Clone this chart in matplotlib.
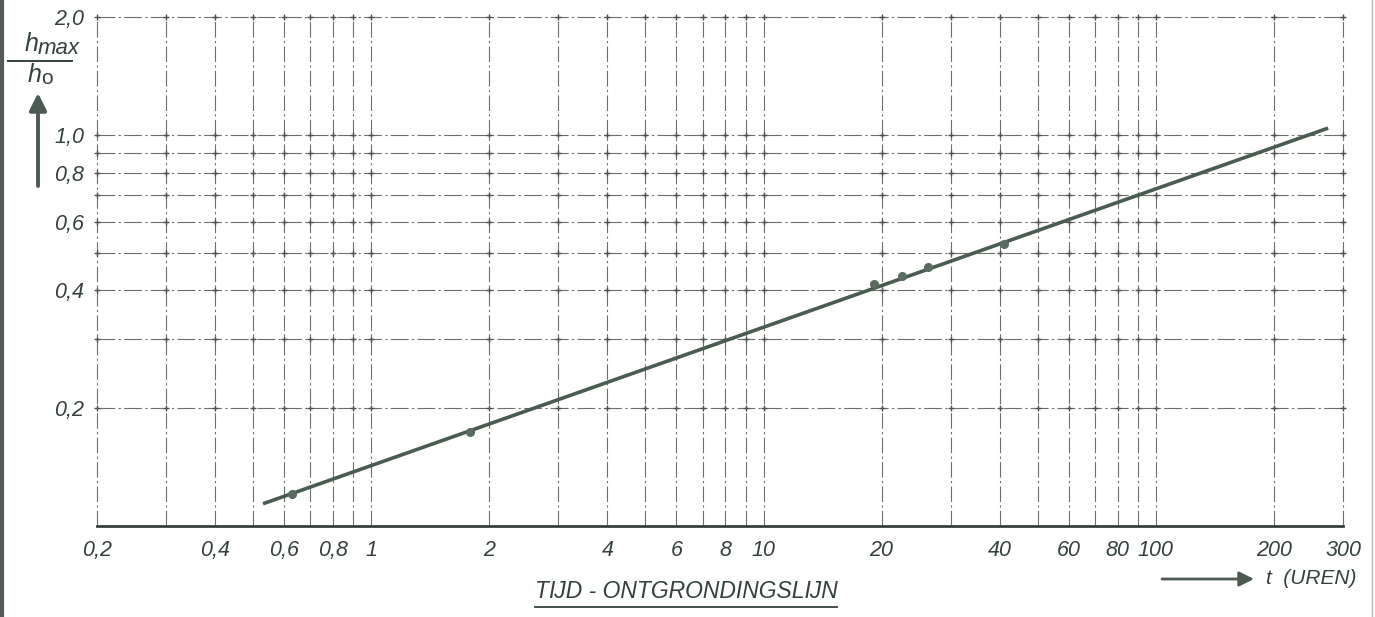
import numpy as np
import matplotlib.pyplot as plt
from matplotlib.lines import Line2D

# measured scour depth ratio vs time (hours)
t_obs = [0.63, 1.79, 19.1, 22.5, 26.2, 41.1]
h_obs = [0.121, 0.174, 0.416, 0.436, 0.459, 0.527]

# straight fitted line on log-log paper
t_fit = [0.53, 275]
h_fit = [0.114, 1.04]

x_grid = [0.2, 0.3, 0.4, 0.5, 0.6, 0.7, 0.8, 0.9,
          1, 2, 3, 4, 5, 6, 7, 8, 9,
          10, 20, 30, 40, 50, 60, 70, 80, 90,
          100, 200, 300]
y_grid = [0.2, 0.3, 0.4, 0.5, 0.6, 0.7, 0.8, 0.9, 1.0, 2.0]
x_labels = [0.2, 0.4, 0.6, 0.8, 1, 2, 4, 6, 8, 10, 20, 40, 60, 80, 100, 200, 300]
y_labels = [0.2, 0.4, 0.6, 0.8, 1.0, 2.0]

ink = '#34423a'
line_col = '#4a5c50'
grid_col = '#6a6f6c'
FONT = 'Liberation Sans'

fig = plt.figure(figsize=(13.75, 6.17), dpi=100)
ax = fig.add_axes([97 / 1375, 1 - 526 / 617, 1246 / 1375, 509 / 617])
ax.set_xscale('log')
ax.set_yscale('log')
ax.set_xlim(0.2, 290)
ax.set_ylim(0.1, 2.0)

for s in ['top', 'left', 'right']:
    ax.spines[s].set_visible(False)
ax.spines['bottom'].set_linewidth(2.0)
ax.spines['bottom'].set_color(ink)

# grid of the log paper
for xv in x_grid:
    ax.axvline(xv, color=grid_col, lw=0.8, ls=(0, (14, 3, 2, 3)), clip_on=False, zorder=1)
for yv in y_grid:
    ax.axhline(yv, color=grid_col, lw=0.8, ls=(0, (16, 3, 2, 3)), clip_on=False, zorder=1)
gx, gy = np.meshgrid(x_grid, y_grid)
ax.plot(gx.ravel(), gy.ravel(), ls='none', marker='+', ms=5, mew=1.0,
        color='#4d524f', clip_on=False, zorder=2)

ax.plot(t_fit, h_fit, color=line_col, lw=2.6, solid_capstyle='butt', zorder=3)
ax.plot(t_obs, h_obs, ls='none', marker='o', ms=5.5, color='#5a6b60', zorder=4)


def fmt(v):
    if v < 1:
        return ('%.1f' % v).replace('.', ',')
    return '%d' % v


ax.set_xticks(x_labels)
ax.set_xticklabels([fmt(v) for v in x_labels])
ax.set_xticks([], minor=True)
ax.set_yticks(y_labels)
ax.set_yticklabels([('%.1f' % v).replace('.', ',') for v in y_labels])
ax.set_yticks([], minor=True)
ax.tick_params(length=0, labelsize=15.5, labelcolor=ink)
ax.tick_params(axis='x', pad=10)
ax.tick_params(axis='y', pad=9)
for lab in ax.get_xticklabels() + ax.get_yticklabels():
    lab.set_fontstyle('italic')
    lab.set_fontfamily(FONT)

# y axis quantity with upward arrow
fig.text(38 / 1375, 1 - 44 / 617, 'h', fontsize=18, style='italic', family=FONT,
         color=ink, ha='right', va='center')
fig.text(38 / 1375, 1 - 48 / 617, 'max', fontsize=16, style='italic', family=FONT,
         color=ink, ha='left', va='center')
fig.add_artist(Line2D([8 / 1375, 72 / 1375], [1 - 61 / 617, 1 - 61 / 617],
                      color=ink, lw=1.4))
fig.text(41 / 1375, 1 - 75 / 617, 'h', fontsize=18, style='italic', family=FONT,
         color=ink, ha='right', va='center')
fig.text(41 / 1375, 1 - 79 / 617, 'o', fontsize=15, family=FONT,
         color=ink, ha='left', va='center')
ax.annotate('', xy=(38, 617 - 93), xytext=(38, 617 - 186),
            xycoords='figure pixels', textcoords='figure pixels',
            arrowprops=dict(arrowstyle='-|>', lw=2.8, color='#4d5a52',
                            mutation_scale=26, shrinkA=0, shrinkB=0))

# x axis quantity with arrow
ax.annotate('', xy=(1254, 617 - 579), xytext=(1162, 617 - 579),
            xycoords='figure pixels', textcoords='figure pixels',
            arrowprops=dict(arrowstyle='-|>', lw=2.0, color='#4d5a52',
                            mutation_scale=22, shrinkA=0, shrinkB=0))
fig.text(1266 / 1375, 1 - 579 / 617, 't  (UREN)', fontsize=15, style='italic',
         family=FONT, color=ink, ha='left', va='center')

title = fig.text(686 / 1375, 1 - 591 / 617, 'T\u0132D - ONTGRONDINGSL\u0132N',
                 fontsize=16.5, style='italic', family=FONT, color=ink,
                 ha='center', va='center')
fig.canvas.draw()
bb = title.get_window_extent().transformed(fig.transFigure.inverted())
fig.add_artist(Line2D([bb.x0, bb.x1], [bb.y0 - 4 / 617, bb.y0 - 4 / 617],
                      color=ink, lw=1.3))

# scanned sheet edges
fig.add_artist(Line2D([2 / 1375, 2 / 1375], [0, 1], color='#555c58', lw=3))
fig.add_artist(Line2D([1372 / 1375, 1372 / 1375], [0, 1], color='#b5b8b6', lw=1))

fig.savefig('out.png', dpi=100)
